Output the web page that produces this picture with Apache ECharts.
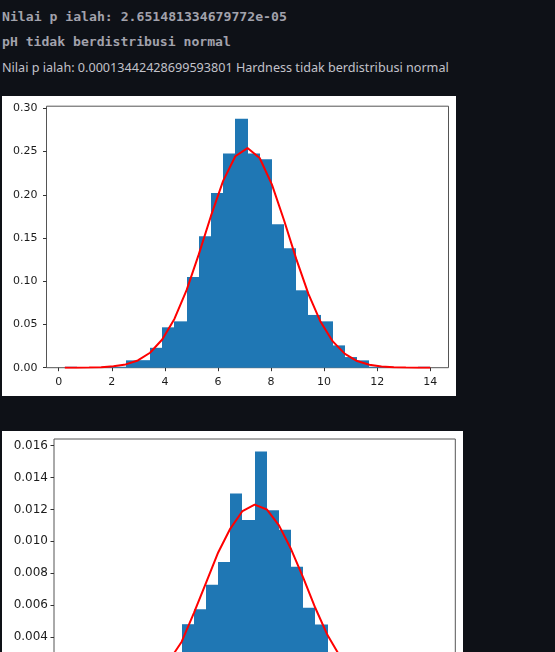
<!DOCTYPE html>
<html>
<head>
<meta charset="utf-8">
<script src="https://cdn.jsdelivr.net/npm/echarts@6/dist/echarts.min.js"></script>
<style>
  html, body { margin: 0; padding: 0; width: 555px; height: 652px; overflow: hidden; background: #0e1117; }
  .line { position: absolute; left: 2px; height: 20px; line-height: 20px; white-space: nowrap; }
  .mono { font-family: 'DejaVu Sans Mono', monospace; font-weight: bold; color: #a2a2ac; font-size: 13px; }
  .sans { font-family: 'Noto Sans', sans-serif; color: #c2c2ca; font-size: 13px; }
  .fig { position: absolute; left: 2px; background: #fff; }
</style>
</head>
<body>
<div id="t1" class="line mono" style="top: 7px">Nilai p ialah: 2.651481334679772e-05</div>
<div id="t2" class="line mono" style="top: 32px">pH tidak berdistribusi normal</div>
<div id="t3" class="line sans" style="top: 58px">Nilai p ialah: 0.00013442428699593801 Hardness tidak berdistribusi normal</div>
<div id="fig1" class="fig" style="top: 96px; width: 454px; height: 300px"></div>
<div id="fig2" class="fig" style="top: 431px; width: 461px; height: 310px"></div>

<script>
// pH histogram (density=True, 30 bins) + normal curve at the bin edges
const phEdges = [0.228, 0.687, 1.146, 1.605, 2.064, 2.523, 2.982, 3.441, 3.900, 4.359,
  4.818, 5.277, 5.736, 6.195, 6.654, 7.113, 7.572, 8.031, 8.490, 8.949,
  9.408, 9.867, 10.326, 10.785, 11.244, 11.703, 12.162, 12.621, 13.080, 13.539, 13.998]
const phDensity = [0.0011, 0, 0, 0.0011, 0.0011, 0.0085, 0.0087, 0.023, 0.0467, 0.0536,
  0.105, 0.152, 0.202, 0.2476, 0.288, 0.2476, 0.241, 0.166, 0.138, 0.0895,
  0.061, 0.0536, 0.0258, 0.0123, 0.0085, 0.0011, 0.0011, 0, 0, 0.0011]
const phCurve = [0.00002, 0.00007, 0.0002, 0.0006, 0.0016, 0.0038, 0.0084, 0.0173, 0.0326, 0.0564,
  0.0897, 0.131, 0.1755, 0.216, 0.2445, 0.254, 0.2425, 0.212, 0.1705, 0.1258,
  0.0853, 0.0531, 0.0304, 0.016, 0.0077, 0.0034, 0.0014, 0.0005, 0.00018, 0.00006, 0.00002]
const phXTicks = [0, 2, 4, 6, 8, 10, 12, 14]
const phYTicks = [0, 0.05, 0.1, 0.15, 0.2, 0.25, 0.3]

// Hardness histogram + normal curve
const hardEdges = [73.49, 81.62, 89.75, 97.87, 106.00, 114.13, 122.26, 130.39, 138.51, 146.64,
  154.77, 162.90, 171.03, 179.15, 187.28, 195.41, 203.54, 211.67, 219.79, 227.92,
  236.05, 244.18, 252.31, 260.43, 268.56, 276.69, 284.82, 292.95, 301.07, 309.20, 317.33]
const hardDensity = [0.00006, 0.00006, 0.00012, 0.00018, 0.00043, 0.00073, 0.0014, 0.0021, 0.0029, 0.0048,
  0.00574, 0.00727, 0.0087, 0.0130, 0.01134, 0.01564, 0.01195, 0.01073, 0.0084, 0.00583,
  0.00478, 0.0029, 0.0022, 0.0015, 0.0009, 0.0005, 0.00024, 0.00012, 0.00006, 0.00006]
const hardCurve = [0.00001, 0.000026, 0.00006, 0.00013, 0.00027, 0.00052, 0.00094, 0.0016, 0.00255, 0.0037,
  0.0055, 0.0074, 0.0093, 0.0108, 0.0119, 0.0123, 0.0120, 0.0110, 0.0095, 0.0077,
  0.0058, 0.0041, 0.0028, 0.0018, 0.00107, 0.0006, 0.00031, 0.00016, 0.00007, 0.00003, 0.000013]
const hardXTicks = [100, 150, 200, 250, 300]
const hardYTicks = [0, 0.002, 0.004, 0.006, 0.008, 0.010, 0.012, 0.014, 0.016]

// squeeze the output lines to the widths seen in the notebook
function fitWidth(id, target) {
  const el = document.getElementById(id)
  const size = parseFloat(getComputedStyle(el).fontSize)
  const w = el.getBoundingClientRect().width
  el.style.fontSize = (size * target / w).toFixed(2) + 'px'
}
fitWidth('t1', 285)
fitWidth('t2', 229)
fitWidth('t3', 447)

function histOption(cfg) {
  const bins = cfg.density.map((v, i) => [cfg.edges[i], cfg.edges[i + 1], v])
  const curve = cfg.curve.map((v, i) => [cfg.edges[i], v])
  const tickFont = { color: '#1c1c1c', fontSize: cfg.fontSize, fontFamily: 'DejaVu Sans' }
  return {
    animation: false,
    grid: {
      left: cfg.grid[0], top: cfg.grid[1], width: cfg.grid[2], height: cfg.grid[3],
      show: true, backgroundColor: '#fff', borderColor: '#555', borderWidth: 1
    },
    xAxis: {
      type: 'value',
      min: cfg.xRange[0],
      max: cfg.xRange[1],
      splitLine: { show: false },
      axisLine: { show: false, onZero: false },
      axisTick: { inside: false, customValues: cfg.xTicks, length: 3.5, lineStyle: { color: '#333' } },
      axisLabel: Object.assign({ customValues: cfg.xTicks, margin: 9 }, tickFont)
    },
    yAxis: {
      type: 'value',
      min: 0,
      max: cfg.yMax,
      splitLine: { show: false },
      axisLine: { show: false, onZero: false },
      axisTick: { inside: false, customValues: cfg.yTicks, length: 3.5, lineStyle: { color: '#333' } },
      axisLabel: Object.assign({
        customValues: cfg.yTicks,
        margin: cfg.labelMargin,
        formatter: v => v.toFixed(cfg.digits)
      }, tickFont)
    },
    series: [
      {
        type: 'custom',
        data: bins,
        encode: { x: [0, 1], y: 2 },
        renderItem(params, api) {
          const top = api.coord([api.value(0), api.value(2)])
          const base = api.coord([api.value(1), 0])
          // snap the sides to whole pixels so neighbouring bars meet without seams
          const x0 = Math.round(top[0])
          const x1 = Math.round(base[0])
          return {
            type: 'rect',
            shape: { x: x0, y: top[1], width: x1 - x0, height: base[1] - top[1] },
            style: { fill: '#1f77b4' }
          }
        }
      },
      {
        type: 'line',
        data: curve,
        showSymbol: false,
        symbol: 'none',
        z: 5,
        lineStyle: { color: '#ff0000', width: 2 }
      }
    ]
  }
}

const chart1 = echarts.init(document.getElementById('fig1'))
chart1.setOption(histOption({
  edges: phEdges, density: phDensity, curve: phCurve,
  xTicks: phXTicks, yTicks: phYTicks,
  xRange: [-0.461, 14.687], yMax: 0.3024,
  grid: [44.5, 10.2, 402, 261.5], labelMargin: 9, digits: 2, fontSize: 11
}))

const chart2 = echarts.init(document.getElementById('fig2'))
chart2.setOption(histOption({
  edges: hardEdges, density: hardDensity, curve: hardCurve,
  xTicks: hardXTicks, yTicks: hardYTicks,
  xRange: [61.30, 329.52], yMax: 0.01642,
  grid: [52, 8, 401.3, 261.7], labelMargin: 6, digits: 3, fontSize: 12
}))
</script>
</body>
</html>
